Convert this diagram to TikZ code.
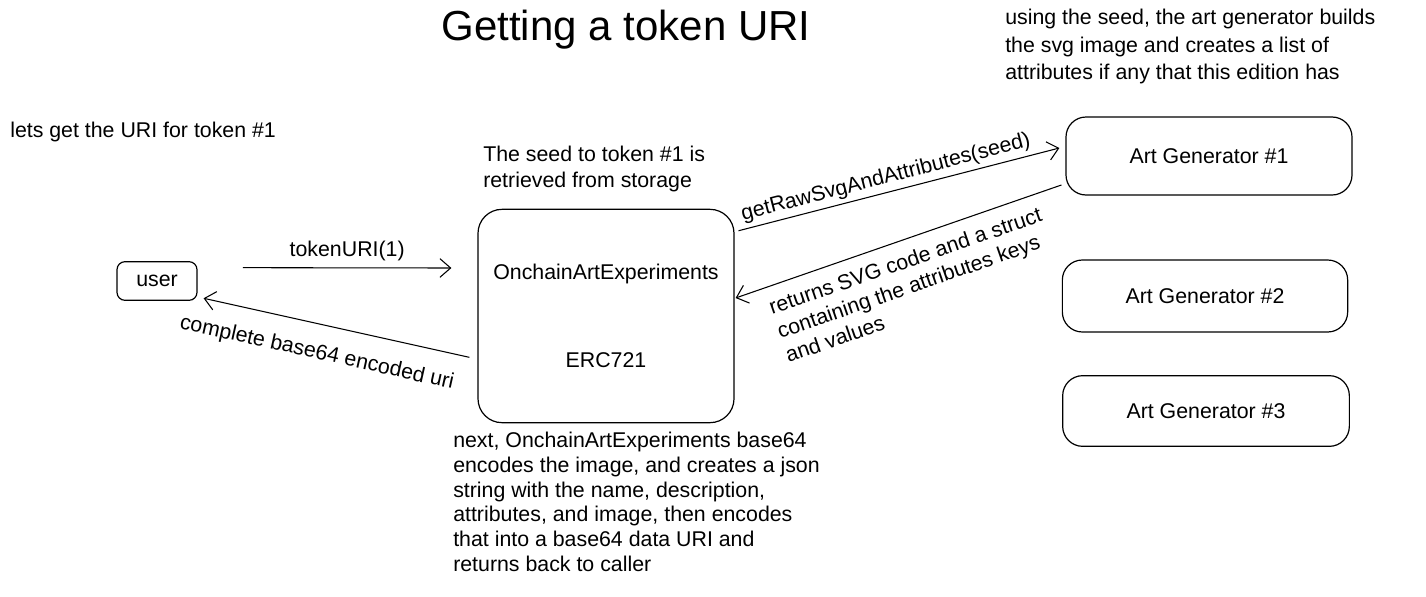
\documentclass[tikz,border=0pt]{standalone}
\usepackage{fontspec}
\setmainfont{Liberation Sans}
\usetikzlibrary{arrows.meta,positioning}

\begin{document}
\begin{tikzpicture}[
    x=0.75pt, y=-0.75pt,
    >={Straight Barb[length=8pt,width=14pt]},
    box/.style={draw, line width=0.9pt, rounded corners=#1, align=center,
                font=\fontsize{16}{18}\selectfont, inner sep=0pt},
    box/.default=15pt,
    note/.style={font=\fontsize{16}{#1}\selectfont, align=left, inner sep=0pt, anchor=north west},
    note/.default=18.5pt,
    lbl/.style={font=\fontsize{16}{19}\selectfont, align=left, inner sep=0pt},
    arr/.style={->, line width=0.8pt},
  ]
  \useasboundingbox (0,0) rectangle (1426,596);

  % Title and notes
  \node[font=\fontsize{31.5}{34}\selectfont] (title) at (626,30) {Getting a token URI};
  \node[note=20.6pt] (genote) at (1005,9)
    {using the seed, the art generator builds\\the svg image and creates a list of\\attributes if any that this edition has};
  \node[note] (start) at (10,122) {lets get the URI for token \#1};
  \node[note=19pt] (seednote) at (483,146) {The seed to token \#1 is\\retrieved from storage};
  \node[note] (encnote) at (453,432)
    {next, OnchainArtExperiments base64\\encodes the image, and creates a json\\string with the name, description,\\attributes, and image, then encodes\\that into a base64 data URI and\\returns back to caller};

  % Boxes
  \node[box=6pt, minimum width=60pt, minimum height=29pt] (user) at (157,281) {user};
  \node[box=18pt, minimum width=192pt, minimum height=160pt] (main) at (606,316)
    {OnchainArtExperiments\\[48pt]ERC721};
  \node[box, minimum width=214.5pt, minimum height=58.5pt] (gen1) at (1209,156) {Art Generator \#1};
  \node[box, minimum width=214pt, minimum height=54pt] (gen2) at (1205,296) {Art Generator \#2};
  \node[box, minimum width=215pt, minimum height=53pt] (gen3) at (1206,411) {Art Generator \#3};

  % Calls
  \draw[arr] ([xshift=34pt,yshift=10pt]user.east) -- node[lbl, above=5pt] {tokenURI(1)}
    ([xshift=-19.5pt,yshift=36pt]main.west);
  \draw[arr] ([xshift=-6pt,yshift=-31pt]main.west) --
    node[lbl, sloped, below=14pt, pos=0.55] {complete base64 encoded uri}
    ([xshift=4.5pt,yshift=2pt]user.south east);
  \draw[arr] ([xshift=3pt,yshift=-16.5pt]main.north east) --
    node[lbl, sloped, above=3pt, pos=0.47] {getRawSvgAndAttributes(seed)}
    ([xshift=-4.5pt,yshift=6pt]gen1.west);
  \draw[arr] ([xshift=-3pt,yshift=-21.75pt]gen1.west) --
    node[lbl, sloped, below=9pt] {returns SVG code and a struct\\containing the attributes keys\\and values}
    ([xshift=0.75pt,yshift=13.5pt]main.east);
\end{tikzpicture}
\end{document}
